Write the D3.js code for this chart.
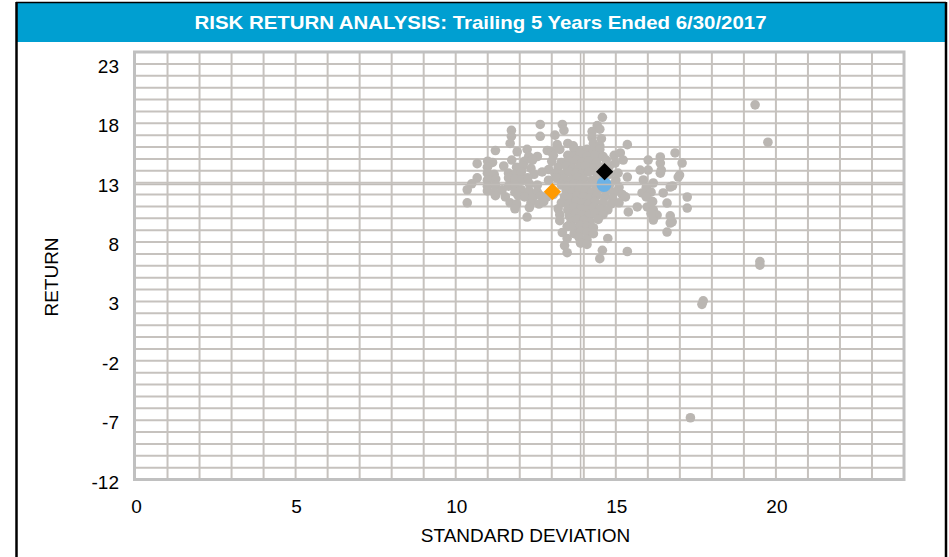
<!DOCTYPE html>
<html>
<head>
<meta charset="utf-8">
<script src="https://cdn.jsdelivr.net/npm/d3@7"></script>
<style>
  html, body { margin: 0; padding: 0; background: #ffffff; }
  svg { display: block; }
  text { font-family: "Liberation Sans", Arial, sans-serif; }
</style>
</head>
<body>
<svg id="chart" width="949" height="557"></svg>
<script>
// ---------------- DATA ----------------
const titleText = "RISK RETURN ANALYSIS: Trailing 5 Years Ended 6/30/2017";
const xAxisTitle = "STANDARD DEVIATION";
const yAxisTitle = "RETURN";
const xTicks = [0, 5, 10, 15, 20];
const yTicks = [-12, -7, -2, 3, 8, 13, 18, 23];
const xDomain = [0, 24];
const yDomain = [-12, 24];

// peer universe: [standard deviation, return]
const peers = [
  [14.58,18.5],
  [12.64,17.9],[13.33,17.9],[14.42,17.8],
  [11.74,17.4],[13.38,17.4],[14.26,17.3],[14.5,17.5],
  [11.74,16.9],[12.64,16.9],[13.1,17.0],[14.26,16.8],[14.55,16.7],
  [11.7,16.3],[13.17,16.2],[13.5,16.3],[13.67,16.1],[14.3,16.3],[14.5,16.1],[15.36,16.2],
  [11.24,15.7],[11.92,15.6],[12.23,15.8],[12.86,15.7],[13.0,15.6],[13.25,15.8],[13.7,15.8],[13.9,15.7],[14.1,15.8],[14.3,15.6],[14.5,15.8],
  [12.28,15.2],[12.55,15.2],[13.05,15.3],[13.5,15.3],[13.7,15.2],[13.9,15.4],[14.1,15.2],[14.35,15.3],[14.6,15.2],[14.95,15.3],
  [10.67,14.6],[11.0,14.8],[11.15,14.7],[11.75,14.9],[12.15,14.8],[12.4,14.9],[13.0,14.8],[13.3,14.7],[13.55,14.8],[13.75,14.9],[13.95,14.7],[14.15,14.8],[14.4,14.7],[14.7,14.9],
  [10.99,14.3],[11.5,14.4],[11.9,14.3],[12.1,14.4],[12.35,14.2],[12.9,14.1],[13.2,14.3],[13.45,14.4],[13.65,14.2],[13.85,14.3],[14.05,14.4],[14.3,14.2],[14.55,14.3],[14.8,14.4],
  [10.99,13.8],[11.2,13.7],[11.65,13.8],[11.85,13.7],[12.05,13.9],[12.45,13.7],[12.7,13.9],[13.1,13.8],[13.35,13.7],[13.55,13.9],[13.75,13.8],[13.95,13.7],[14.15,13.9],[14.4,13.8],[14.8,13.7],
  [10.67,13.4],[10.99,13.2],[11.25,13.3],[11.65,13.4],[11.85,13.3],[12.05,13.2],[12.25,13.4],[12.9,13.2],[13.15,13.4],[13.4,13.3],[13.6,13.2],[13.8,13.4],[14.0,13.3],[14.25,13.2],[14.45,13.4],[15.0,13.2],
  [10.5,12.9],[10.99,12.7],[11.24,12.8],[11.65,12.7],[11.85,12.8],[12.3,12.9],[12.55,12.8],[13.3,12.8],[13.5,12.7],[13.7,12.9],[13.9,12.8],[14.1,12.7],[14.35,12.9],[14.8,12.8],[15.1,12.6],
  [10.36,12.4],[10.99,12.3],[11.2,12.2],[11.45,12.4],[11.85,12.2],[12.05,12.4],[12.3,12.3],[12.55,12.2],[13.05,12.0],[13.45,12.3],[13.65,12.2],[13.85,12.4],[14.05,12.3],[14.25,12.2],[14.45,12.4],[14.7,12.3],[14.95,12.2],
  [11.24,11.9],[11.55,11.8],[11.95,11.9],[12.15,11.8],[12.4,11.7],[12.65,11.9],[12.85,11.8],[13.4,11.8],[13.6,11.7],[13.8,11.9],[14.0,11.8],[14.2,11.7],[14.4,11.9],[14.65,11.8],[14.9,11.7],[15.2,12.0],[15.3,11.8],
  [10.36,11.3],[11.7,11.3],[11.9,11.2],[12.35,11.3],[12.6,11.2],[12.75,11.4],[13.3,11.3],[13.55,11.2],[13.75,11.4],[13.95,11.3],[14.15,11.2],[14.35,11.4],[14.6,11.3],[14.85,11.2],[15.1,11.3],
  [11.85,10.8],[12.3,10.9],[13.2,10.8],[13.5,10.7],[13.7,10.9],[13.9,10.8],[14.1,10.7],[14.3,10.9],[14.5,10.8],[14.75,10.7],
  [12.23,10.1],[13.25,10.3],[13.55,10.2],[13.75,10.4],[13.95,10.3],[14.15,10.2],[14.35,10.4],[14.6,10.3],
  [13.25,9.8],[13.6,9.7],[13.8,9.9],[14.0,9.8],[14.2,9.7],[14.45,9.9],
  [13.48,9.3],[13.7,9.2],[13.9,9.4],[14.1,9.3],[14.3,9.2],
  [13.33,8.8],[13.7,8.7],[13.9,8.9],[14.1,8.8],[14.3,8.7],
  [13.48,8.3],[13.85,8.4],[14.1,8.2],[14.75,8.3],
  [13.4,7.7],[13.9,7.9],[14.1,7.8],
  [13.48,7.1],[14.58,7.3],[15.36,7.2],
  [14.5,6.6],
  [15.14,15.5],[15.23,14.9],[14.98,14.65],[15.07,13.8],[15.36,13.47],[15.76,14.06],[15.86,13.22],[16.01,14.9],
  [16.39,15.16],[16.39,14.65],[16.85,15.5],[17.07,14.65],[16.95,13.47],[15.82,12.13],[16.17,12.97],[16.39,13.8],
  [16.48,12.13],[16.7,12.63],[17.23,11.79],[17.23,10.86],[15.39,10.53],[15.67,10.95],[15.98,10.95],[16.17,10.7],
  [16.29,10.27],[16.6,11.28],[16.7,9.6],[16.6,8.84],[16.01,14.06],[16.42,14.06],[16.17,9.85],[16.76,9.7],
  [15.95,12.6],[16.1,12.2],[15.95,11.8],[16.15,11.4],[16.1,10.4],[16.7,10.2],[16.99,13.64],[16.77,12.72],
  // outliers
  [19.35,19.55],[19.75,16.4],[19.5,6.35],[19.5,6.05],[17.73,3.05],[17.69,2.75],[17.33,-6.8]
];

// highlighted series
const portfolio = [[14.65, 13.92]];   // black diamond
const benchmark = [[14.63, 12.85]];   // blue circle
const reference = [[13.02, 12.24]];   // orange diamond
const medianLines = { sd: 13.9, ret: 12.85 };

// ---------------- DRAW ----------------
const svg = d3.select("#chart");
const W = 949, H = 557;
const plot = { left: 135.5, right: 904, top: 52, bottom: 479.5 };

const x = d3.scaleLinear().domain(xDomain).range([plot.left, plot.right]);
const y = d3.scaleLinear().domain(yDomain).range([plot.bottom, plot.top]);

// outer frame
svg.append("rect").attr("x", 0).attr("y", 0).attr("width", W).attr("height", H).attr("fill", "#fff");
svg.append("rect").attr("x", 17).attr("y", 3).attr("width", 928).attr("height", 39).attr("fill", "#009FD1");
svg.append("line").attr("x1", 16).attr("x2", 946).attr("y1", 2.5).attr("y2", 2.5).attr("stroke", "#000").attr("stroke-width", 1.5);
svg.append("line").attr("x1", 16.5).attr("x2", 16.5).attr("y1", 2).attr("y2", H).attr("stroke", "#000").attr("stroke-width", 2.5);
svg.append("line").attr("x1", 946).attr("x2", 946).attr("y1", 2).attr("y2", H).attr("stroke", "#000").attr("stroke-width", 2.5);

svg.append("text")
  .attr("x", 480.5).attr("y", 29)
  .attr("text-anchor", "middle")
  .attr("fill", "#fff")
  .attr("font-weight", "bold")
  .attr("font-size", 19)
  .attr("textLength", 572)
  .attr("lengthAdjust", "spacingAndGlyphs")
  .text(titleText);

// gridlines
const gridColor = "#C6C2BE";
const g = svg.append("g");
g.selectAll(".vg").data(d3.range(xDomain[0] + 1, xDomain[1])).join("line")
  .attr("x1", d => x(d)).attr("x2", d => x(d))
  .attr("y1", plot.top).attr("y2", plot.bottom)
  .attr("stroke", gridColor).attr("stroke-width", 2);
g.selectAll(".hg").data(d3.range(yDomain[0] + 1, yDomain[1])).join("line")
  .attr("x1", plot.left).attr("x2", plot.right)
  .attr("y1", d => y(d)).attr("y2", d => y(d))
  .attr("stroke", gridColor).attr("stroke-width", 2);

// median crosshair (under points)
const crossColor = "#C0BCB8";
svg.append("line").attr("x1", x(medianLines.sd)).attr("x2", x(medianLines.sd))
  .attr("y1", plot.top).attr("y2", plot.bottom).attr("stroke", crossColor).attr("stroke-width", 1.5);

// plot border
svg.append("rect").attr("x", plot.left - 1).attr("y", plot.top)
  .attr("width", plot.right - plot.left + 1).attr("height", plot.bottom - plot.top)
  .attr("fill", "none").attr("stroke", "#C0C0C0").attr("stroke-width", 3);

// peers
svg.append("g").selectAll("circle").data(peers).join("circle")
  .attr("cx", d => x(d[0])).attr("cy", d => y(d[1])).attr("r", 4.8)
  .attr("fill", "#BAB6B2");

// benchmark circle
svg.append("g").selectAll("circle").data(benchmark).join("circle")
  .attr("cx", d => x(d[0])).attr("cy", d => y(d[1])).attr("r", 7.5)
  .attr("fill", "#6CB2E6");

// horizontal crosshair over
svg.append("line").attr("x1", plot.left).attr("x2", plot.right)
  .attr("y1", y(medianLines.ret)).attr("y2", y(medianLines.ret))
  .attr("stroke", crossColor).attr("stroke-width", 1.5);

const diamond = d3.symbol().type(d3.symbolSquare).size(150);
svg.append("g").selectAll("path").data(reference).join("path")
  .attr("d", diamond)
  .attr("transform", d => `translate(${x(d[0])},${y(d[1])}) rotate(45)`)
  .attr("fill", "#FF9A00");
svg.append("g").selectAll("path").data(portfolio).join("path")
  .attr("d", diamond)
  .attr("transform", d => `translate(${x(d[0])},${y(d[1])}) rotate(45)`)
  .attr("fill", "#000");

// axes tick labels
svg.append("g").selectAll("text").data(yTicks).join("text")
  .attr("x", 119).attr("y", d => y(d) + 9)
  .attr("text-anchor", "end").attr("font-size", 19).attr("fill", "#000")
  .text(d => d);
svg.append("g").selectAll("text").data(xTicks).join("text")
  .attr("x", d => x(d) + 1).attr("y", 513)
  .attr("text-anchor", "middle").attr("font-size", 19).attr("fill", "#000")
  .text(d => d);

// axis titles
svg.append("text").attr("x", 525.5).attr("y", 542)
  .attr("text-anchor", "middle").attr("font-size", 19).attr("fill", "#000")
  .text(xAxisTitle);
svg.append("text")
  .attr("transform", "translate(58,277) rotate(-90)")
  .attr("text-anchor", "middle").attr("font-size", 19).attr("fill", "#000")
  .text(yAxisTitle);
</script>
</body>
</html>
